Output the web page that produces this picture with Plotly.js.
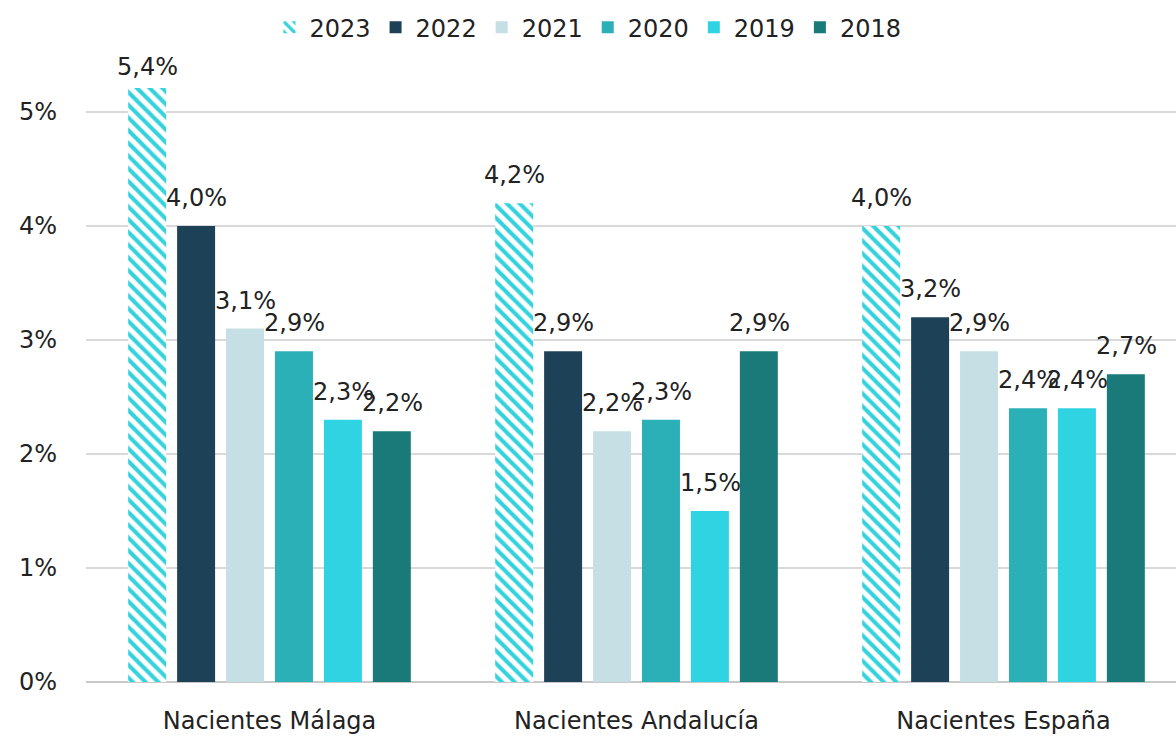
<!DOCTYPE html>
<html>
<head>
<meta charset="utf-8">
<script src="https://cdn.plot.ly/plotly-3.0.1.min.js"></script>
<style>
  html, body { margin: 0; padding: 0; background: #fff; }
  #chart { width: 1176px; height: 736px; }
</style>
</head>
<body>
<div id="chart"></div>
<script>
/** ------------------------- Data ------------------------ **/
let categories = ["Nacientes Málaga", "Nacientes Andalucía", "Nacientes España"];
let years = ["2023", "2022", "2021", "2020", "2019", "2018"];

let v2023 = [5.4, 4.2, 4.0];
let v2022 = [4.0, 2.9, 3.2];
let v2021 = [3.1, 2.2, 2.9];
let v2020 = [2.9, 2.3, 2.4];
let v2019 = [2.3, 1.5, 2.4];
let v2018 = [2.2, 2.9, 2.7];

let yTicks = [0, 1, 2, 3, 4, 5];

let colors = ["#33d2dc", "#1d4258", "#c6dfe4", "#2bb0b8", "#30d3e2", "#1a7a7a"];
let series = [v2023, v2022, v2021, v2020, v2019, v2018];

let yMax = 5.21;
let slot = 49;   // pixel step between bars of a group
let txtFont = "'DejaVu Sans', Roboto, sans-serif";

/** ------------------------- Traces ------------------------ **/
let traces = [];
for (let i = 0; i < years.length; i++) {
    let t = {
        x: categories,
        y: series[i],
        type: "bar",
        name: years[i],
        marker: {color: colors[i], line: {width: 0}},
        hoverinfo: "none"
    };
    if (i === 0) {
        // 2023 is drawn hatched
        t.marker = {
            color: "#ffffff",
            line: {width: 0},
            pattern: {shape: "\\", fgcolor: colors[0], bgcolor: "#ffffff", size: 9, solidity: 0.45}
        };
    }
    traces.push(t);
}

/* value labels as annotations above each bar */
let annotations = [];
for (let i = 0; i < years.length; i++) {
    for (let j = 0; j < categories.length; j++) {
        let v = series[i][j];
        annotations.push({
            x: categories[j],
            y: Math.min(v, yMax),
            xref: "x", yref: "y",
            text: v.toFixed(1).replace(".", ",") + "%",
            showarrow: false,
            xshift: (i - 2.5) * slot,
            yshift: v > yMax ? 21 : 28,
            yanchor: "middle",
            font: {family: txtFont, size: 24, color: "#222222"}
        });
    }
}

/** ------------------------- Layout ------------------------ **/
let layout = {
    width: 1176,
    height: 736,
    margin: {l: 86, r: 0, t: 88, b: 54},
    paper_bgcolor: "#ffffff",
    plot_bgcolor: "#ffffff",
    barmode: "group",
    bargap: 0.2,
    bargroupgap: 0.224,
    showlegend: true,
    legend: {
        orientation: "h",
        xref: "container", yref: "container",
        x: 0.5, xanchor: "center",
        y: 0.993, yanchor: "top",
        font: {family: txtFont, size: 24, color: "#222222"},
        itemwidth: 30
    },
    xaxis: {
        type: "category",
        range: [-0.5, 2.47],
        showgrid: false,
        showline: false,
        ticks: "",
        ticklabelstandoff: 22,
        tickfont: {family: txtFont, size: 24, color: "#222222"},
        fixedrange: true
    },
    yaxis: {
        range: [0, yMax],
        tickvals: yTicks,
        ticktext: yTicks.map(function (d) { return d + "%"; }),
        showgrid: true,
        gridcolor: "#d9d9d9",
        gridwidth: 2,
        zeroline: true,
        zerolinecolor: "#c8c8c8",
        zerolinewidth: 2,
        ticklabelstandoff: 28,
        tickfont: {family: txtFont, size: 24, color: "#222222"},
        fixedrange: true
    },
    annotations: annotations
};

Plotly.newPlot("chart", traces, layout, {displayModeBar: false, staticPlot: true});
</script>
</body>
</html>
